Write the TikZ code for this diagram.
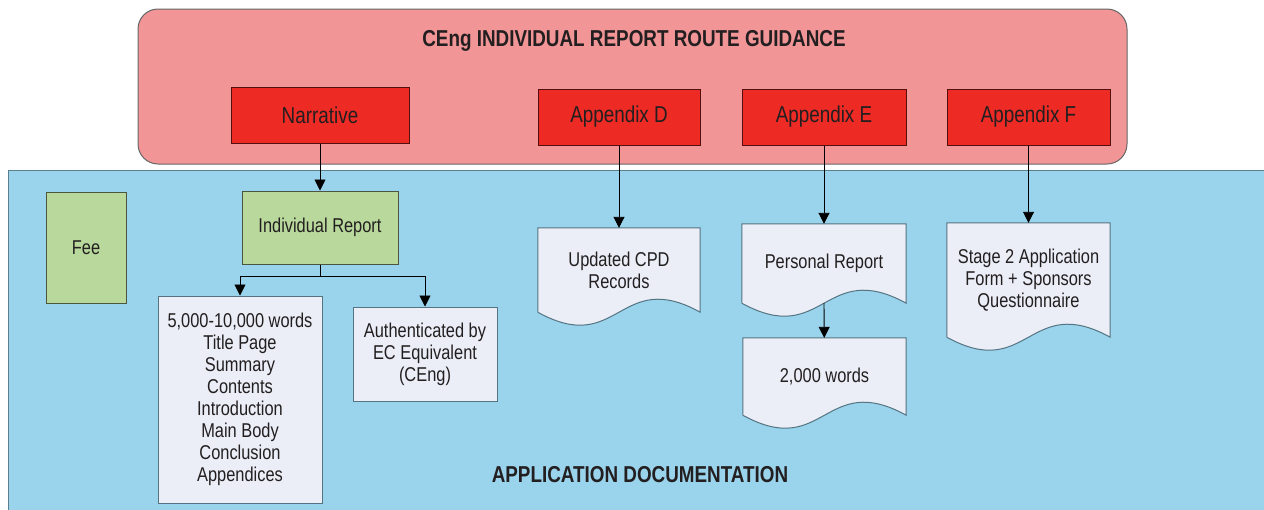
\documentclass[tikz,border=0pt]{standalone}
\usepackage{fontspec}
\setmainfont{Liberation Sans}[FakeStretch=0.82]
\usetikzlibrary{arrows.meta,calc}
\definecolor{pinkbg}{HTML}{F29596}
\definecolor{bluebg}{HTML}{99D3EC}
\definecolor{redbox}{HTML}{EE2A24}
\definecolor{greenbox}{HTML}{B8D89C}
\definecolor{paper}{HTML}{EBEEF7}
\definecolor{ink}{HTML}{231F20}
\pgfdeclarelayer{panels}
\pgfdeclarelayer{papers}
\pgfsetlayers{panels,papers,main}
\begin{document}
\begin{tikzpicture}[x=1pt,y=-1pt,
    every node/.style={text=ink},
    headbox/.style={draw=black!65!redbox, fill=redbox, line width=1pt,
      minimum height=56pt, font=\fontsize{23}{27}\selectfont},
    greenbox/.style={draw=black!60!greenbox, fill=greenbox, line width=1pt,
      font=\fontsize{20}{22}\selectfont},
    paperbox/.style={draw=black!45!bluebg, fill=paper, line width=1pt,
      align=center, font=\fontsize{20}{22}\selectfont},
    docbox/.style={align=center, font=\fontsize{20}{22}\selectfont},
    docline/.style={draw=black!45!bluebg, fill=paper, line width=1pt},
    flow/.style={-{Triangle[width=11pt,length=11pt]}, line width=0.9pt}]
  \useasboundingbox (0,0) rectangle (1264,509);
  % panels
  \begin{pgfonlayer}{panels}
    \draw[fill=pinkbg, draw=black!60, line width=1pt, rounded corners=20pt]
      (138,9) rectangle (1127,164);
    \draw[fill=bluebg, draw=black!40!bluebg, line width=1pt]
      (8,170) rectangle (1280,525);
  \end{pgfonlayer}
  \path
    (634,41) node[font=\bfseries\fontsize{23}{27}\selectfont] (title){CEng INDIVIDUAL REPORT ROUTE GUIDANCE}
    (640,475) node[font=\bfseries\fontsize{23}{27}\selectfont] (docs){APPLICATION DOCUMENTATION};
  % route guidance
  \path
    (320,115.5) node[headbox, minimum width=178pt] (narr){Narrative}
    (619,117) node[headbox, minimum width=162pt] (appD){Appendix D}
    (824,117) node[headbox, minimum width=164pt] (appE){Appendix E}
    (1028.5,117) node[headbox, minimum width=163pt] (appF){Appendix F};
  % documentation
  \path
    (86,247.5) node[greenbox, minimum width=80pt, minimum height=111pt] (fee){Fee}
    (320,227.5) node[greenbox, minimum width=156pt, minimum height=73pt] (ir){Individual Report}
    (240,399.5) node[paperbox, minimum width=164pt, minimum height=207pt] (list){5,000-10,000 words\\Title Page\\Summary\\Contents\\Introduction\\Main Body\\Conclusion\\Appendices}
    (425,354) node[paperbox, minimum width=144pt, minimum height=94pt] (auth){Authenticated by\\EC Equivalent\\(CEng)}
    (619,270) node[docbox, minimum width=162pt, minimum height=84pt] (cpd){Updated CPD\\Records}
    (824,263.5) node[docbox, minimum width=164pt, minimum height=79pt] (pers){Personal Report}
    (824.5,376.5) node[docbox, minimum width=163pt, minimum height=77pt] (words){2,000 words}
    (1028.5,280) node[docbox, minimum width=163pt, minimum height=114pt] (stage){Stage 2 Application\\Form + Sponsors\\Questionnaire};
  \begin{pgfonlayer}{papers}
    \foreach \d in {cpd,pers,words,stage}
      \draw[docline] (\d.south west) -- (\d.north west) -- (\d.north east) -- (\d.south east)
        .. controls ($(\d.south)+(0,-45)$) and ($(\d.south)+(0,45)$) .. (\d.south west);
  \end{pgfonlayer}
  \coordinate (split) at (320,276);
  \begin{scope}[flow]
    \draw (narr) -- (ir);
    \draw[-] (ir) -- (split);
    \draw (split) -| (list);
    \draw (split) -| (auth);
    \draw (appD) -- (cpd);
    \draw (appE) -- (pers);
    \draw (pers.south) -- (words);
    \draw (appF) -- (stage);
  \end{scope}
\end{tikzpicture}
\end{document}
